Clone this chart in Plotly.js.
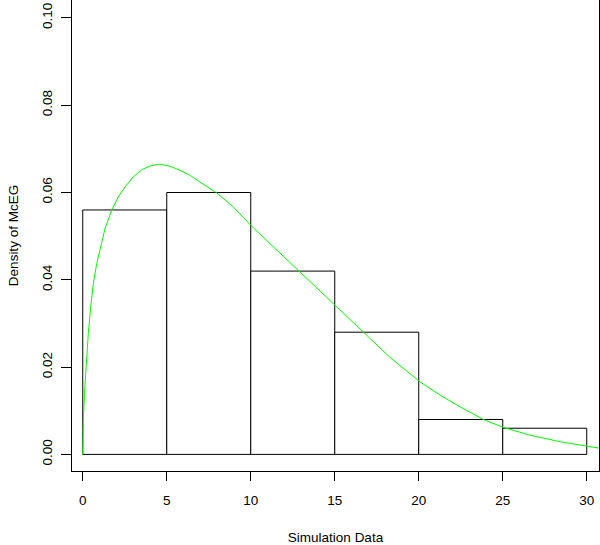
<!DOCTYPE html>
<html>
<head>
<meta charset="utf-8">
<script src="https://cdn.plot.ly/plotly-3.0.1.min.js"></script>
<style>
  html, body { margin: 0; padding: 0; background: #fff; }
  #hist { width: 600px; height: 545px; }
</style>
</head>
<body>
<div id="hist"></div>
<script>
// histogram bins (density scale)
const binMids = [2.5, 7.5, 12.5, 17.5, 22.5, 27.5];
const binDensity = [0.056, 0.060, 0.042, 0.028, 0.008, 0.006];

// fitted McEG density
const curveX = [0, 0.04, 0.14, 0.24, 0.33, 0.48, 0.63, 0.83, 1.03, 1.33, 1.73, 2.12, 2.52, 3.01, 3.51, 4.0, 4.6, 5.2, 5.79, 6.4, 6.98, 7.98, 8.96, 10.0, 11.5, 12.87, 15.02, 16.67, 18.3, 20.08, 21.27, 22.46, 23.85, 25.03, 26.63, 28.42, 30.0, 30.8];
const curveY = [0, 0.0086, 0.0163, 0.0224, 0.0277, 0.0340, 0.0392, 0.0437, 0.0470, 0.0518, 0.0560, 0.0590, 0.0613, 0.0636, 0.0652, 0.0661, 0.0665, 0.0660, 0.0651, 0.0639, 0.0624, 0.0599, 0.0567, 0.0525, 0.0470, 0.0420, 0.0340, 0.0280, 0.0222, 0.0166, 0.0136, 0.0109, 0.0080, 0.0062, 0.0044, 0.0029, 0.0019, 0.0014];

const xTicks = [0, 5, 10, 15, 20, 25, 30];
const yTicks = [0, 0.02, 0.04, 0.06, 0.08, 0.10];
const yTickText = ['0.00', '0.02', '0.04', '0.06', '0.08', '0.10'];

const bars = {
    type: 'bar',
    x: binMids,
    y: binDensity,
    width: 5,
    marker: { color: 'white', line: { color: 'black', width: 1 } },
    hoverinfo: 'skip'
};

const curve = {
    type: 'scatter',
    mode: 'lines',
    x: curveX,
    y: curveY,
    line: { color: '#00ff00', width: 1, shape: 'linear' }
};

const font = { family: 'Liberation Sans, Arial, sans-serif', size: 13.5, color: 'black' };

const layout = {
    width: 600,
    height: 545,
    margin: { l: 72, r: 1, t: 0, b: 74 },
    showlegend: false,
    paper_bgcolor: 'white',
    plot_bgcolor: 'white',
    font: font,
    xaxis: {
        range: [-0.64, 30.73],
        tickvals: xTicks,
        ticks: 'outside',
        ticklen: 9,
        tickcolor: 'black',
        showgrid: false,
        zeroline: false,
        showline: true,
        linecolor: 'black',
        linewidth: 1,
        mirror: true,
        ticklabelstandoff: 8,
        title: { text: 'Simulation Data', font: font, standoff: 26 }
    },
    yaxis: {
        range: [-0.0038, 0.1041],
        tickvals: yTicks,
        ticktext: yTickText,
        tickangle: -90,
        ticks: 'outside',
        ticklen: 10,
        tickcolor: 'black',
        showgrid: false,
        zeroline: false,
        showline: true,
        linecolor: 'black',
        linewidth: 1,
        mirror: true,
        ticklabelstandoff: 4,
        title: { text: 'Density of McEG', font: font, standoff: 17 }
    }
};

Plotly.newPlot('hist', [bars, curve], layout, { displayModeBar: false, staticPlot: true });
</script>
</body>
</html>
